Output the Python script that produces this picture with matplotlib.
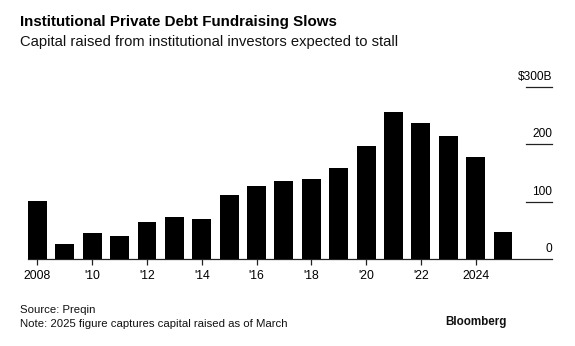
import numpy as np
import matplotlib.pyplot as plt

plt.rcParams['font.family'] = ['Liberation Sans', 'DejaVu Sans']

# Capital raised by institutional investors, $B
years = list(range(2008, 2026))
raised = [101, 26, 45, 41, 64, 74, 70, 111, 128, 136,
          140, 158, 197, 256, 237, 214, 177, 48]

tick_years = [2008, 2010, 2012, 2014, 2016, 2018, 2020, 2022, 2024]
tick_labels = ['2008', "'10", "'12", "'14", "'16", "'18", "'20", "'22", '2024']
y_ticks = [0, 100, 200, 300]
y_labels = ['0', '100', '200', '$300B']

W, H = 575, 346
fig = plt.figure(figsize=(W / 100, H / 100), dpi=100)
ax = fig.add_axes([28 / W, (H - 259.3) / H, (552 - 28) / W, (259.3 - 86.7) / H])

ax.bar(years, raised, width=0.69, color='black', zorder=3)
ax.set_xlim(2008 - 0.345, 2026.79)
ax.set_ylim(0, 300)

for s in ['top', 'right', 'left']:
    ax.spines[s].set_visible(False)
ax.spines['bottom'].set_color('#222222')
ax.spines['bottom'].set_linewidth(0.9)

ax.set_xticks(tick_years)
ax.set_xticklabels(tick_labels, fontsize=8.8, color='black')
ax.tick_params(axis='x', length=4, width=0.9, color='#222222', pad=4)
ax.set_yticks([])

# short gridline stubs with labels sitting on them at the right edge
x0 = (526 - 28) / (552 - 28)
for v, lab in zip(y_ticks, y_labels):
    if v > 0:
        ax.plot([x0, 1.0], [v, v], transform=ax.get_yaxis_transform(),
                color='#222222', lw=0.9, clip_on=False)
    ax.text(1.0, v + 7, lab, transform=ax.get_yaxis_transform(),
            ha='right', va='bottom', fontsize=8.6, color='black')

fig.text(20 / W, 1 - 22 / H, 'Institutional Private Debt Fundraising Slows',
         fontsize=10.9, fontweight='bold', va='center', ha='left')
fig.text(20 / W, 1 - 42 / H, 'Capital raised from institutional investors expected to stall',
         fontsize=10.6, va='center', ha='left', color='#111111')
fig.text(20 / W, 1 - 310 / H, 'Source: Preqin',
         fontsize=8.2, va='center', ha='left', color='#111111')
fig.text(20 / W, 1 - 324 / H, 'Note: 2025 figure captures capital raised as of March',
         fontsize=8.2, va='center', ha='left', color='#111111')
fig.text(507 / W, 1 - 322 / H, 'Bloomberg',
         fontsize=8.4, fontweight='bold', va='center', ha='right', color='#111111')

fig.savefig('out.png', dpi=100)
